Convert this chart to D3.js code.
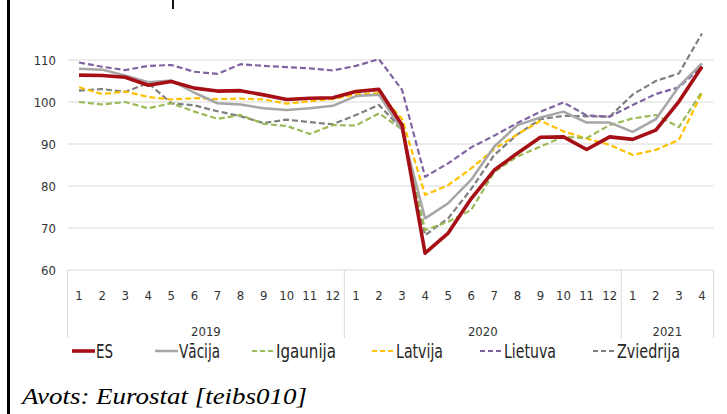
<!DOCTYPE html>
<html>
<head>
<meta charset="utf-8">
<script src="https://cdn.jsdelivr.net/npm/d3@7/dist/d3.min.js"></script>
<style>
  html, body { margin: 0; padding: 0; background: #fff; }
  svg { display: block; }
  .cal { font-family: "Liberation Sans Narrow", "DejaVu Sans Condensed", "Open Sans", sans-serif; }
</style>
</head>
<body>
<svg id="chart" width="727" height="414"></svg>
<script>
// ---- data ----
const monthLabels = ["1","2","3","4","5","6","7","8","9","10","11","12",
                     "1","2","3","4","5","6","7","8","9","10","11","12",
                     "1","2","3","4"];
const yearLabels = ["2019", "2020", "2021"];
const yearMonthCounts = [12, 12, 4];
const yTicks = [60, 70, 80, 90, 100, 110];

const seriesNames = ["ES", "Vācija", "Igaunija", "Latvija", "Lietuva", "Zviedrija"];
const ES =        [106.4,106.3,105.9,104.0,104.9,103.3,102.6,102.7,101.7,100.6,100.9,101.0,
                   102.5,103.0,94.5,64.0,68.8,77.0,83.8,87.8,91.6,91.7,88.7,91.7,
                   91.1,93.3,100.1,108.4];
const Vacija =    [107.9,107.7,106.3,104.7,105.1,102.2,99.7,99.4,98.5,98.1,98.5,99.1,
                   101.4,101.7,93.3,72.3,75.9,81.5,89.4,94.5,96.3,97.7,95.1,95.1,
                   92.9,95.9,103.7,109.2];
const Igaunija =  [100.0,99.4,100.0,98.5,99.7,97.7,96.0,96.9,94.8,94.3,92.4,94.5,
                   94.4,97.3,93.5,69.5,71.5,74.3,83.4,87.0,89.4,91.7,91.4,94.5,
                   96.1,96.9,94.0,102.5];
const Latvija =   [103.5,101.9,102.5,101.2,100.6,100.9,100.7,100.8,100.6,99.6,100.2,100.7,
                   101.8,102.1,96.0,77.9,80.2,84.2,88.8,92.3,95.5,93.0,91.3,89.8,
                   87.4,88.6,91.0,102.1];
const Lietuva =   [109.4,108.4,107.6,108.6,108.8,107.2,106.7,109.0,108.6,108.3,108.0,107.5,
                   108.6,110.2,102.9,82.2,85.4,89.2,92.0,95.0,97.7,99.9,96.8,96.5,
                   99.3,101.9,103.5,108.5];
const Zviedrija = [102.7,103.1,102.4,104.5,99.7,99.2,97.8,96.6,95.0,95.8,95.2,94.7,
                   96.9,99.3,93.5,68.3,72.3,79.3,87.4,92.3,95.9,96.7,96.6,96.5,
                   101.8,105.0,106.8,116.3];
const sourceText = "Avots: Eurostat [teibs010]";

// ---- styles ----
const styles = {
  "ES":        {color: "#a50f15", width: 3.6, dash: null},
  "Vācija":    {color: "#a6a6a6", width: 2.5, dash: null},
  "Igaunija":  {color: "#9bbb59", width: 2.2, dash: "6,3"},
  "Latvija":   {color: "#ffc000", width: 2.2, dash: "6,3"},
  "Lietuva":   {color: "#8064a2", width: 2.2, dash: "6,3"},
  "Zviedrija": {color: "#7f7f7f", width: 2.2, dash: "6,3"}
};
const seriesValues = [ES, Vacija, Igaunija, Latvija, Lietuva, Zviedrija];

const svg = d3.select("#chart");
const idx = d3.range(monthLabels.length);
const x = d3.scaleBand().domain(idx).range([67.5, 713.5]).padding(0);
const cx = i => x(i) + x.bandwidth() / 2;
const y = d3.scaleLinear().domain([60, 110]).range([270, 60]);

// left border
svg.append("rect").attr("x", 7).attr("y", 0).attr("width", 3).attr("height", 414).attr("fill", "#000");
// cut-off title fragment
svg.append("rect").attr("x", 172).attr("y", 0).attr("width", 2).attr("height", 9).attr("fill", "#111");

// gridlines
svg.append("g").selectAll("line").data(yTicks).join("line")
  .attr("x1", 67.5).attr("x2", 713.5)
  .attr("y1", d => y(d)).attr("y2", d => y(d))
  .attr("stroke", "#d9d9d9").attr("stroke-width", 1);

// y labels
svg.append("g").attr("class", "cal").selectAll("text").data(yTicks).join("text")
  .attr("x", 56).attr("y", d => y(d)).attr("dy", "0.36em")
  .attr("text-anchor", "end").attr("font-size", 13).attr("fill", "#333")
  .text(d => d);

// month labels
svg.append("g").attr("class", "cal").selectAll("text").data(idx).join("text")
  .attr("x", i => cx(i)).attr("y", 300)
  .attr("text-anchor", "middle").attr("font-size", 13).attr("fill", "#333")
  .text(i => monthLabels[i]);

// year groups
let start = 0;
const bounds = [0];
yearMonthCounts.forEach(c => { start += c; bounds.push(start); });
const edge = b => b < idx.length ? x(b) : x(idx.length - 1) + x.bandwidth();
svg.append("g").selectAll("line").data(bounds).join("line")
  .attr("x1", edge).attr("x2", edge)
  .attr("y1", 270).attr("y2", 338)
  .attr("stroke", "#d9d9d9").attr("stroke-width", 1);
svg.append("g").attr("class", "cal").selectAll("text").data(yearLabels).join("text")
  .attr("x", (d, k) => (edge(bounds[k]) + edge(bounds[k + 1])) / 2)
  .attr("y", 336)
  .attr("text-anchor", "middle").attr("font-size", 13).attr("fill", "#333")
  .text(d => d);

// lines
const line = d3.line().x((d, i) => cx(i)).y(d => y(d)).curve(d3.curveLinear);
const drawOrder = [5, 4, 3, 2, 1, 0];
drawOrder.forEach(k => {
  const st = styles[seriesNames[k]];
  svg.append("path").datum(seriesValues[k])
    .attr("d", line).attr("fill", "none")
    .attr("stroke", st.color).attr("stroke-width", st.width)
    .attr("stroke-dasharray", st.dash)
    .attr("stroke-linejoin", "round");
});

// legend
const legendX = [72, 155, 252, 372, 480, 593];
const legendTextW = [17, 41, 60, 47, 52, 63];
const lg = svg.append("g");
seriesNames.forEach((n, k) => {
  const st = styles[n];
  lg.append("line")
    .attr("x1", legendX[k]).attr("x2", legendX[k] + 23)
    .attr("y1", 351).attr("y2", 351)
    .attr("stroke", st.color).attr("stroke-width", st.width)
    .attr("stroke-dasharray", st.dash ? "5,3" : null);
  lg.append("text").attr("class", "cal")
    .attr("x", legendX[k] + 24).attr("y", 351).attr("dy", "0.37em")
    .attr("font-size", 20).attr("fill", "#262626")
    .attr("textLength", legendTextW[k]).attr("lengthAdjust", "spacingAndGlyphs")
    .text(n);
});

// source
svg.append("text")
  .attr("x", 22).attr("y", 404)
  .attr("font-family", "'Liberation Serif', 'Times New Roman', serif")
  .attr("font-style", "italic").attr("font-size", 23).attr("fill", "#000")
  .attr("textLength", 285).attr("lengthAdjust", "spacingAndGlyphs")
  .text(sourceText);
</script>
</body>
</html>
